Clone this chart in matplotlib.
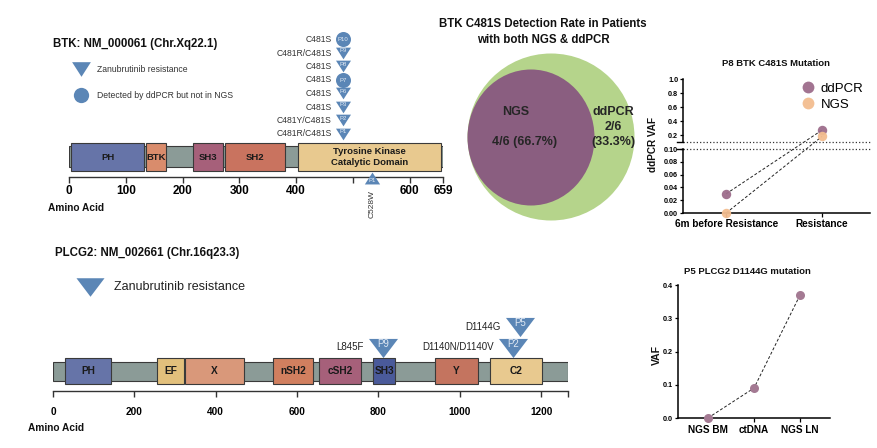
import numpy as np
import matplotlib
matplotlib.use('Agg')
import matplotlib.pyplot as plt
from matplotlib.patches import Rectangle, Circle, Ellipse
from matplotlib.ticker import FixedLocator, FixedFormatter

plt.rcParams['font.family'] = ['Liberation Sans', 'DejaVu Sans']

W, H = 877, 448

# ---------------- data ----------------
btk_length = 659
btk_domains = ['PH', 'BTK', 'SH3', 'SH2', 'Tyrosine Kinase\nCatalytic Domain']
btk_dom_start = [4, 135, 218, 275, 404]
btk_dom_end = [132, 171, 272, 381, 655]
btk_ticks = [0, 100, 200, 300, 400, 500, 600, 659]
btk_tick_labels = ['0', '100', '200', '300', '400', '', '600', '659']

btk_stack_pos = 483
btk_stack_patients = ['P1', 'P2', 'P3', 'P6', 'P7', 'P8', 'P9', 'P10']
btk_stack_mut = ['C481R/C481S', 'C481Y/C481S', 'C481S', 'C481S', 'C481S',
                 'C481S', 'C481R/C481S', 'C481S']
btk_stack_ddpcr_only = [False, False, False, False, True, False, False, True]
btk_other_pos = [534]
btk_other_patient = ['P1']
btk_other_mut = ['C528W']

plcg2_length = 1266
plcg2_domains = ['PH', 'EF', 'X', 'nSH2', 'cSH2', 'SH3', 'Y', 'C2']
plcg2_dom_start = [30, 256, 325, 541, 654, 787, 939, 1075]
plcg2_dom_end = [143, 322, 470, 640, 757, 841, 1045, 1202]
plcg2_ticks = [0, 200, 400, 600, 800, 1000, 1200, 1266]
plcg2_tick_labels = ['0', '200', '400', '600', '800', '1000', '1200', '']
plcg2_mut_pos = [812, 1131, 1148]
plcg2_mut_patient = ['P9', 'P2', 'P5']
plcg2_mut_label = ['L845F', 'D1140N/D1140V', 'D1144G']
plcg2_mut_row = [0, 0, 1]

venn_ngs = 4
venn_ddpcr_only = 2
venn_total = 6

p8_categories = ['6m before Resistance', 'Resistance']
p8_ddpcr = [0.03, 0.27]
p8_ngs = [0.0, 0.18]
p8_lower_ticks = [0.0, 0.02, 0.04, 0.06, 0.08, 0.10]
p8_upper_ticks = [0.2, 0.4, 0.6, 0.8, 1.0]

p5_categories = ['NGS BM', 'ctDNA', 'NGS LN']
p5_vaf = [0.0, 0.09, 0.37]
p5_ticks = [0.0, 0.1, 0.2, 0.3, 0.4]

# ---------------- styles ----------------
BLUE = '#5b86b6'
BACKBONE = '#8b9b97'
EDGE = '#3a3a3a'
btk_colors = ['#6674a8', '#d98c6c', '#a6607a', '#c9735f', '#e8c98f']
plcg2_colors = ['#6674a8', '#e2c07c', '#d9987a', '#d17f5f', '#a6607a',
                '#4a5a9a', '#c4745f', '#e8c98f']
DDPCR_C = '#9d6d8b'
NGS_C = '#f3bd8f'

fig = plt.figure(figsize=(W / 100, H / 100), dpi=100)


def px_axes(x0, y0, x1, y1):
    return fig.add_axes([x0 / W, 1 - y1 / H, (x1 - x0) / W, (y1 - y0) / H])


tri_down = [(-1, 0.78), (1, 0.78), (0, -0.78)]
tri_up = [(-1, -0.78), (1, -0.78), (0, 0.78)]
tri_down_big = [(-1, 0.66), (1, 0.66), (0, -0.66)]


def domain_axis(ax, length, starts, ends, names, colors, ticks, ticklabels,
                bb, dm, fs_dom, fs_tick, pad):
    ax.patch.set_visible(False)
    for s in ['top', 'right', 'left']:
        ax.spines[s].set_visible(False)
    ax.spines['bottom'].set_linewidth(1.0)
    ax.spines['bottom'].set_color('#333333')
    ax.set_xlim(0, length)
    ax.set_yticks([])
    ax.add_patch(Rectangle((0, bb[0]), length, bb[1] - bb[0], facecolor=BACKBONE,
                           edgecolor=EDGE, lw=0.8, zorder=1))
    for s, e, n, c in zip(starts, ends, names, colors):
        ax.add_patch(Rectangle((s, dm[0]), e - s, dm[1] - dm[0], facecolor=c,
                               edgecolor=EDGE, lw=0.8, zorder=2))
        ax.text((s + e) / 2, (dm[0] + dm[1]) / 2, n, ha='center', va='center',
                fontsize=fs_dom, fontweight='bold', color='#1a1a1a', zorder=3,
                linespacing=1.3)
    ax.xaxis.set_major_locator(FixedLocator(ticks))
    ax.xaxis.set_major_formatter(FixedFormatter(ticklabels))
    ax.tick_params(axis='x', direction='out', length=4.5, width=1.0,
                   color='#333333', labelsize=fs_tick, pad=pad)
    for lab in ax.get_xticklabels():
        lab.set_fontweight('bold')


# ---------------- BTK diagram ----------------
axb = px_axes(69, 30, 443, 177)
axb.set_ylim(0, 147)
domain_axis(axb, btk_length, btk_dom_start, btk_dom_end, btk_domains, btk_colors,
            btk_ticks, btk_tick_labels, (10, 31), (6, 34), 6.8, 8.5, 1.5)

row0, step = 43, 13.5
for i, (p, m, d) in enumerate(zip(btk_stack_patients, btk_stack_mut, btk_stack_ddpcr_only)):
    y = row0 + i * step
    mk = 'o' if d else tri_down
    axb.plot([btk_stack_pos], [y], marker=mk, ms=10.8, color=BLUE, mec='none',
             ls='none', zorder=4, clip_on=False)
    axb.annotate(p, (btk_stack_pos, y), xytext=(0, 0 if d else 1.5),
                 textcoords='offset points', ha='center', va='center',
                 fontsize=4.3, color='#e2eaf4', zorder=5)
    axb.annotate(m, (btk_stack_pos, y), xytext=(-8.2, 0), textcoords='offset points',
                 ha='right', va='center', fontsize=6.2, color='#333333')

for pos, p, m in zip(btk_other_pos, btk_other_patient, btk_other_mut):
    axb.plot([pos], [-1], marker=tri_up, ms=11, color=BLUE, mec='none', ls='none',
             zorder=4, clip_on=False)
    axb.annotate(p, (pos, -1), xytext=(0, -1.5), textcoords='offset points',
                 ha='center', va='center', fontsize=4.3, color='#e2eaf4', zorder=5,
                 annotation_clip=False)
    axb.annotate(m, (pos, -1), xytext=(0, -9), textcoords='offset points',
                 ha='center', va='top', rotation=90, fontsize=6, color='#333333',
                 annotation_clip=False)

# ---------------- PLCG2 diagram ----------------
axp = px_axes(53, 300, 568, 391)
axp.set_ylim(0, 91)
domain_axis(axp, plcg2_length, plcg2_dom_start, plcg2_dom_end, plcg2_domains,
            plcg2_colors, plcg2_ticks, plcg2_tick_labels, (10, 29), (7, 33), 7.3, 7.2, 7)
rows = [43.5, 64.5]
for pos, p, lab, r in zip(plcg2_mut_pos, plcg2_mut_patient, plcg2_mut_label, plcg2_mut_row):
    y = rows[r]
    axp.plot([pos], [y], marker=tri_down_big, ms=20.9, color=BLUE, mec='none',
             ls='none', zorder=4, clip_on=False)
    axp.annotate(p, (pos, y), xytext=(0, 2.5), textcoords='offset points',
                 ha='center', va='center', fontsize=7, color='#dfe8f3', zorder=5,
                 annotation_clip=False)
    axp.annotate(lab, (pos, y), xytext=(-14, 0), textcoords='offset points',
                 ha='right', va='center', fontsize=7, color='#222222',
                 annotation_clip=False)

# ---------------- P8 broken-axis chart ----------------
LOW_PX, GAP_PX, UP_PX = 64.0, 7.0, 63.0


def fwd(y):
    y = np.asarray(y, dtype=float)
    return np.where(y <= 0.1, y / 0.1 * LOW_PX,
                    LOW_PX + GAP_PX + (y - 0.1) / 0.9 * UP_PX)


def inv(t):
    t = np.asarray(t, dtype=float)
    return np.where(t <= LOW_PX, t / LOW_PX * 0.1,
                    np.where(t >= LOW_PX + GAP_PX,
                             0.1 + (t - LOW_PX - GAP_PX) / UP_PX * 0.9, 0.1))


ax8 = px_axes(683, 79, 870, 213)
ax8.set_yscale('function', functions=(fwd, inv))
x8 = np.arange(len(p8_categories))
ax8.plot(x8, p8_ddpcr, ls=(0, (3, 2)), color='#222222', lw=0.7, zorder=2)
ax8.plot(x8, p8_ngs, ls=(0, (3, 2)), color='#222222', lw=0.7, zorder=2)
ax8.plot(x8, p8_ddpcr, 'o', ms=6.8, color=DDPCR_C, mec='none', zorder=3,
         clip_on=False, label='ddPCR', alpha=0.95)
ax8.plot(x8, p8_ngs, 'o', ms=6.8, color=NGS_C, mec='none', zorder=3,
         clip_on=False, label='NGS', alpha=0.95)
ax8.set_xlim(-0.45, 1.5)
ax8.set_ylim(0, 1.0)
ax8.axhline(0.1, color='#333333', ls=':', lw=0.9, xmin=0, xmax=1.0, clip_on=False)
ax8.axhline(0.1 + 1e-6, color='#333333', ls=':', lw=0.9, xmin=0, xmax=1.0, clip_on=False)
ax8.spines['top'].set_visible(False)
ax8.spines['right'].set_visible(False)
ax8.spines['left'].set_visible(False)
yt = ax8.get_yaxis_transform()
ax8.plot([0, 0], [0, 0.1], transform=yt, color='black', lw=1.1, clip_on=False)
ax8.plot([0, 0], [0.1 + 1e-6, 1.0], transform=yt, color='black', lw=1.1, clip_on=False)
ax8.plot([-0.03, 0], [0.1, 0.1], transform=yt, color='black', lw=1.0, clip_on=False)
ax8.plot([-0.03, 0], [0.1 + 1e-6, 0.1 + 1e-6], transform=yt, color='black', lw=1.0, clip_on=False)
ax8.spines['bottom'].set_linewidth(1.1)
ticks8 = p8_lower_ticks + p8_upper_ticks
ax8.yaxis.set_major_locator(FixedLocator(ticks8))
ax8.yaxis.set_major_formatter(FixedFormatter(['%.2f' % t for t in p8_lower_ticks] +
                                             ['%.1f' % t for t in p8_upper_ticks]))
ax8.yaxis.set_minor_locator(FixedLocator([]))
ax8.set_xticks(x8)
ax8.set_xticklabels(p8_categories)
ax8.tick_params(axis='y', length=2.5, width=0.9, labelsize=5.2, pad=1)
ax8.tick_params(axis='x', length=3, width=0.9, labelsize=7.2, pad=1.5)
for lab in ax8.get_xticklabels() + ax8.get_yticklabels():
    lab.set_fontweight('bold')
leg = ax8.legend(loc='upper right', bbox_to_anchor=(1.03, 1.06), frameon=False,
                 fontsize=9.5, handlelength=0.8, handletextpad=0.6, labelspacing=0.25,
                 markerscale=1.25)

# ---------------- P5 chart ----------------
ax5 = px_axes(678, 285, 830, 418)
x5 = np.arange(len(p5_categories))
ax5.plot(x5, p5_vaf, ls=(0, (3, 2)), color='#222222', lw=0.7, zorder=2)
ax5.plot(x5, p5_vaf, 'o', ms=6.5, color='#a47a93', mec='none', zorder=3, clip_on=False)
ax5.set_xlim(-0.65, 2.65)
ax5.set_ylim(0, 0.4)
ax5.spines['top'].set_visible(False)
ax5.spines['right'].set_visible(False)
ax5.spines['left'].set_linewidth(1.1)
ax5.spines['bottom'].set_linewidth(1.1)
ax5.set_yticks(p5_ticks)
ax5.set_yticklabels(['%.1f' % t for t in p5_ticks])
ax5.set_xticks(x5)
ax5.set_xticklabels(p5_categories)
ax5.tick_params(axis='y', length=2.5, width=0.9, labelsize=5.2, pad=1)
ax5.tick_params(axis='x', length=3, width=0.9, labelsize=7.2, pad=2)
for lab in ax5.get_xticklabels() + ax5.get_yticklabels():
    lab.set_fontweight('bold')

# ---------------- canvas (titles, legends, venn) ----------------
cv = fig.add_axes([0, 0, 1, 1])
cv.set_xlim(0, W)
cv.set_ylim(H, 0)
cv.axis('off')

cv.text(53, 44, 'BTK: NM_000061 (Chr.Xq22.1)', fontsize=8.3, fontweight='bold',
        ha='left', va='center', color='#111111')
cv.plot([81], [69], marker=tri_down, ms=13.5, color=BLUE, mec='none', ls='none')
cv.text(97, 70, 'Zanubrutinib resistance', fontsize=6.2, ha='left', va='center', color='#333333')
cv.plot([81], [95], marker='o', ms=11, color=BLUE, mec='none', ls='none')
cv.text(97, 95, 'Detected by ddPCR but not in NGS', fontsize=6.2, ha='left', va='center',
        color='#333333')
cv.text(48, 208, 'Amino Acid', fontsize=7.3, fontweight='bold', ha='left', va='center',
        color='#111111')

cv.text(55, 253, 'PLCG2: NM_002661 (Chr.16q23.3)', fontsize=8.3, fontweight='bold',
        ha='left', va='center', color='#111111')
cv.plot([90], [287.5], marker=tri_down_big, ms=20.2, color=BLUE, mec='none', ls='none')
cv.text(114, 287, 'Zanubrutinib resistance', fontsize=9, ha='left', va='center',
        color='#222222')
cv.text(28, 428, 'Amino Acid', fontsize=7.3, fontweight='bold', ha='left', va='center',
        color='#111111')

# Venn
cv.text(543, 32, 'BTK C481S Detection Rate in Patients\nwith both NGS & ddPCR',
        fontsize=8.3, fontweight='bold', ha='center', va='center', linespacing=1.35,
        color='#111111')
R_OUT = 83.5
IN_W, IN_H = 127.0, 136.0
cx, cy = 551, 137
cv.add_patch(Circle((cx, cy), R_OUT, facecolor='#b5d48b', edgecolor='none'))
cv.add_patch(Ellipse((cx - R_OUT + IN_W / 2, cy + 0.5), IN_W, IN_H,
                     facecolor='#8a5e80', edgecolor='none'))
cv.text(516, 112, 'NGS', fontsize=9, fontweight='bold', ha='center', va='center', color='#262626')
cv.text(525, 142, '%d/%d (%.1f%%)' % (venn_ngs, venn_total, 100 * venn_ngs / venn_total),
        fontsize=9, fontweight='bold', ha='center', va='center', color='#262626')
cv.text(613, 112, 'ddPCR', fontsize=9, fontweight='bold', ha='center', va='center', color='#262626')
cv.text(613, 127, '%d/%d' % (venn_ddpcr_only, venn_total), fontsize=9, fontweight='bold',
        ha='center', va='center', color='#262626')
cv.text(613, 142, '(%.1f%%)' % (100 * venn_ddpcr_only / venn_total), fontsize=9,
        fontweight='bold', ha='center', va='center', color='#262626')

cv.text(776, 64, 'P8 BTK C481S Mutation', fontsize=6.8, fontweight='bold', ha='center',
        va='center', color='#111111')
cv.text(653, 145, 'ddPCR VAF', fontsize=7.2, fontweight='bold', ha='center', va='center',
        rotation=90, color='#111111')
cv.text(747, 272, 'P5 PLCG2 D1144G mutation', fontsize=6.8, fontweight='bold', ha='center',
        va='center', color='#111111')
cv.text(657, 355, 'VAF', fontsize=7.5, fontweight='bold', ha='center', va='center',
        rotation=90, color='#111111')

fig.savefig('out.png', dpi=100)
